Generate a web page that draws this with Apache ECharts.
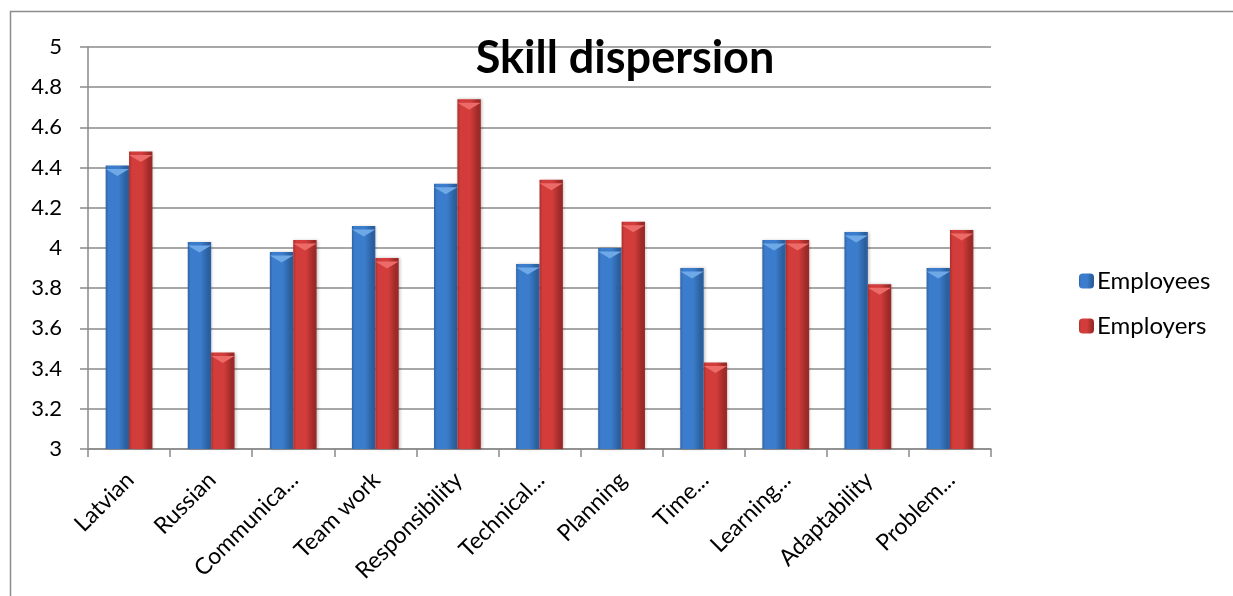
<!DOCTYPE html>
<html>
<head>
<meta charset="utf-8">
<script src="https://cdn.jsdelivr.net/npm/echarts@6/dist/echarts.min.js"></script>
<style>
  html, body { margin: 0; padding: 0; background: #fff; }
  #chart { width: 1233px; height: 596px; }
</style>
</head>
<body>
<div id="chart"></div>
<script>
// Skill ratings, averaged per group
const categories = ['Latvian', 'Russian', 'Communica...', 'Team work', 'Responsibility', 'Technical...', 'Planning', 'Time...', 'Learning...', 'Adaptability', 'Problem...'];
const employees = [4.41, 4.03, 3.98, 4.11, 4.32, 3.92, 4.00, 3.90, 4.04, 4.08, 3.90];
const employers = [4.48, 3.48, 4.04, 3.95, 4.74, 4.34, 4.13, 3.43, 4.04, 3.82, 4.09];
const seriesNames = ['Employees', 'Employers'];
const yTicks = { min: 3, max: 5, interval: 0.2 };

const FONT = 'Lato, "Open Sans", sans-serif';
const GRID_COLOR = '#8a8a8a';

function bevel(edgeL, mid, edgeR) {
  return new echarts.graphic.LinearGradient(0, 0, 1, 0, [
    { offset: 0, color: edgeL },
    { offset: 0.12, color: mid },
    { offset: 0.55, color: mid },
    { offset: 0.88, color: edgeR },
    { offset: 1, color: edgeR }
  ]);
}

const blueFill = bevel('#2f64a6', '#3b7dcc', '#2b5f9e');
const redFill = bevel('#a82f2d', '#d23c3a', '#9c2a28');
const barGapOpts = { barGap: '0%', barCategoryGap: '43%' };
const capPath = 'path://M0,0 L20,0 L10,6 Z';

const chart = echarts.init(document.getElementById('chart'), null, { renderer: 'canvas' });
chart.setOption({
  animation: false,
  backgroundColor: '#ffffff',
  graphic: [{
    type: 'rect',
    left: 8, top: 9,
    shape: { width: 1240, height: 600 },
    style: { fill: 'none', stroke: '#8c8c8c', lineWidth: 1.5 },
    silent: true
  }],
  title: {
    text: 'Skill dispersion',
    left: 620, top: 31,
    textAlign: 'center',
    textStyle: { fontFamily: FONT, fontWeight: 'bold', fontSize: 45, color: '#000' }
  },
  legend: {
    orient: 'vertical',
    left: 1074, top: 264,
    itemWidth: 15, itemHeight: 15,
    itemGap: 21,
    data: seriesNames.map((n, i) => ({ name: n, itemStyle: { color: i === 0 ? blueFill : redFill } })),
    textStyle: { fontFamily: FONT, fontSize: 24, color: '#000', padding: [0, 0, 0, -2] }
  },
  grid: { left: 88, right: 242, top: 47, bottom: 147, containLabel: false },
  xAxis: {
    type: 'category',
    data: categories,
    axisLine: { lineStyle: { color: GRID_COLOR, width: 1.5 } },
    axisTick: { show: true, length: 8, lineStyle: { color: GRID_COLOR, width: 1.5 } },
    axisLabel: {
      rotate: 45, interval: 0, margin: 12,
      fontFamily: FONT, fontSize: 23, color: '#000',
      verticalAlign: 'top',
      padding: [0, 10, 0, 0]
    }
  },
  yAxis: {
    type: 'value',
    min: yTicks.min, max: yTicks.max, interval: yTicks.interval,
    axisLine: { show: true, lineStyle: { color: GRID_COLOR, width: 1.5 } },
    axisTick: { show: true, inside: false, length: 8, lineStyle: { color: GRID_COLOR, width: 1.5 } },
    splitLine: { lineStyle: { color: GRID_COLOR, width: 1.5 } },
    axisLabel: {
      margin: 26,
      fontFamily: FONT, fontSize: 22, color: '#000',
      formatter: v => String(+v.toFixed(1))
    }
  },
  series: [
    Object.assign({
      name: seriesNames[0], type: 'bar', data: employees,
      itemStyle: { color: blueFill, shadowColor: 'rgba(0,0,0,0.25)', shadowBlur: 3, shadowOffsetX: 1 }
    }, barGapOpts),
    Object.assign({
      name: seriesNames[1], type: 'bar', data: employers,
      itemStyle: { color: redFill, shadowColor: 'rgba(0,0,0,0.25)', shadowBlur: 3, shadowOffsetX: 1 }
    }, barGapOpts),
    Object.assign({
      name: seriesNames[0], type: 'pictorialBar', data: employees,
      symbol: capPath, symbolSize: ['100%', 7], symbolPosition: 'end',
      symbolOffset: [0, '50%'], symbolRepeat: false,
      itemStyle: { color: '#6fa8e6' }, z: 3, silent: true
    }, barGapOpts),
    Object.assign({
      name: seriesNames[1], type: 'pictorialBar', data: employers,
      symbol: capPath, symbolSize: ['100%', 7], symbolPosition: 'end',
      symbolOffset: [0, '50%'], symbolRepeat: false,
      itemStyle: { color: '#ec6a67' }, z: 3, silent: true
    }, barGapOpts)
  ]
});
</script>
</body>
</html>
